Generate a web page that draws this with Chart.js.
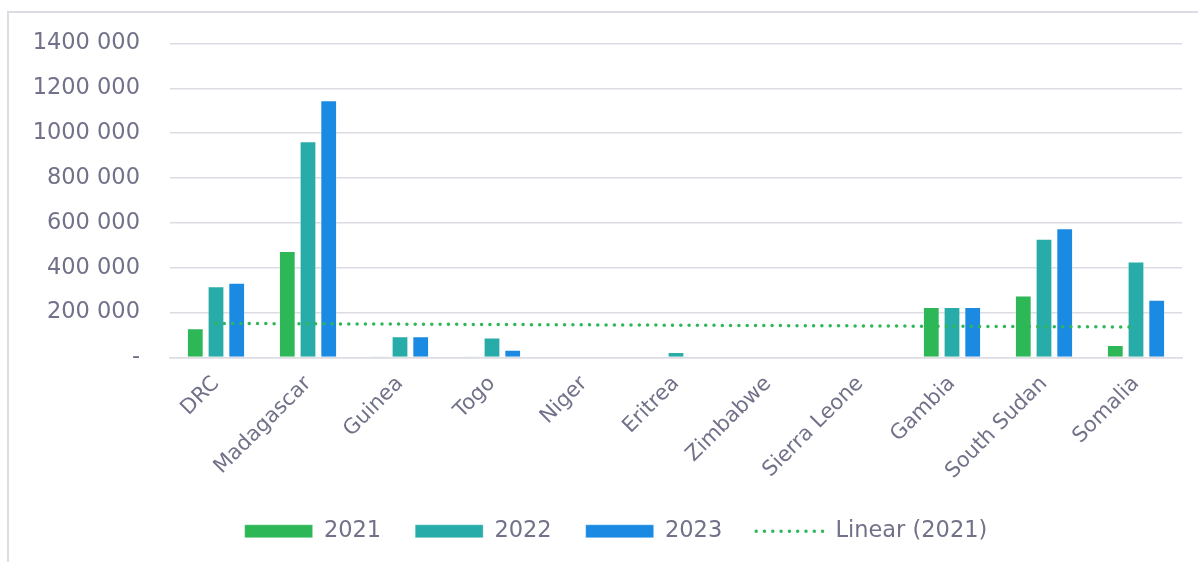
<!DOCTYPE html>
<html>
<head>
<meta charset="utf-8">
<script src="https://cdn.jsdelivr.net/npm/chart.js@4"></script>
<style>
  html, body { margin: 0; padding: 0; background: #fff; }
  #wrap { position: relative; width: 1198px; height: 562px; overflow: hidden; }
  #frame {
    position: absolute; left: 7px; top: 11px; width: 1300px; height: 700px;
    border-left: 2px solid #dcdce3; border-top: 2px solid #dcdce3;
  }
  canvas { position: absolute; left: 0; top: 0; }
</style>
</head>
<body>
<div id="wrap">
  <div id="frame"></div>
  <canvas id="chart" width="1198" height="562"></canvas>
</div>
<script>
// ── Data ───────────────────────────────────────────────────────────
const countries = ["DRC", "Madagascar", "Guinea", "Togo", "Niger", "Eritrea",
                   "Zimbabwe", "Sierra Leone", "Gambia", "South Sudan", "Somalia"]
const values2021 = [130000, 475000, 2000, 2000, 0, 3000, 0, 0, 225000, 276000, 56000]
const values2022 = [318000, 964000, 95000, 89000, 0, 24000, 0, 0, 225000, 530000, 428000]
const values2023 = [333000, 1147000, 95000, 34000, 0, 4000, 0, 0, 225000, 576000, 258000]
// trend line end points (first and last category)
const trend2021 = [152000, null, null, null, null, null, null, null, null, null, 136000]
const yTickValues = [0, 200000, 400000, 600000, 800000, 1000000, 1200000, 1400000]
const yTickLabels = ["-", "200 000", "400 000", "600 000", "800 000", "1000 000", "1200 000", "1400 000"]

const textColor = "#717189"
const gridColor = "#dcdce3"
const family = "'DejaVu Sans', Verdana, sans-serif"
const axisFont = { family, size: 21 }
const bigFont  = { family, size: 22.5 }

const green = "#2db757"
const teal  = "#27aca9"
const blue  = "#1b8ae3"

const dots = [0, 8.3]

const barStyle = {
  borderWidth: 1,
  borderColor: "rgba(255,255,255,0.35)",
  barPercentage: 0.81,
  categoryPercentage: 0.675,
  pointStyle: "rect",
  order: 1,
}

// nudge the legend a little to the right, like the original
const legendShift = {
  id: "legendShift",
  afterLayout(chart) {
    chart.legend.left += 8.5
    chart.legend.right += 8.5
  }
}

new Chart(document.getElementById("chart"), {
  type: "bar",
  plugins: [legendShift],
  data: {
    labels: countries,
    datasets: [
      { label: "2021", data: values2021, backgroundColor: green, ...barStyle },
      { label: "2022", data: values2022, backgroundColor: teal,  ...barStyle },
      { label: "2023", data: values2023, backgroundColor: blue,  ...barStyle },
      {
        type: "line",
        label: "Linear (2021)",
        data: trend2021,
        borderColor: green,
        backgroundColor: green,
        borderWidth: 3.5,
        borderDash: dots,
        borderCapStyle: "round",
        pointRadius: 0,
        pointStyle: "line",
        spanGaps: true,
        fill: false,
        order: 0,
      },
    ]
  },
  options: {
    responsive: false,
    animation: false,
    layout: { padding: { left: 33, right: 16, top: 34, bottom: 9.5 } },
    plugins: {
      tooltip: { enabled: false },
      legend: {
        position: "bottom",
        maxHeight: 90,
        labels: {
          usePointStyle: true,
          pointStyleWidth: 68,
          boxHeight: 13,
          padding: 34,
          color: textColor,
          font: bigFont,
          sort: (a, b) => a.datasetIndex - b.datasetIndex,
          generateLabels: chart => {
            const items = Chart.defaults.plugins.legend.labels.generateLabels(chart)
            items.forEach(it => {
              if (it.pointStyle === "line") {
                it.lineDash = dots
                it.lineCap = "round"
                it.lineWidth = 3.5
                it.strokeStyle = green
              }
            })
            return items
          }
        }
      }
    },
    scales: {
      x: {
        grid: { display: false },
        border: { color: gridColor, width: 1.5 },
        ticks: {
          color: textColor,
          font: axisFont,
          minRotation: 45,
          maxRotation: 45,
          padding: 6,
        },
        afterFit: s => { s.height = 128.5; s.paddingLeft = 0; s.paddingRight = 0 }
      },
      y: {
        min: 0,
        max: 1400000,
        grid: { color: gridColor, lineWidth: 1.5, drawTicks: false },
        border: { display: false },
        afterBuildTicks: s => { s.ticks = yTickValues.map(v => ({ value: v })) },
        ticks: {
          color: textColor,
          font: bigFont,
          padding: 30,
          callback: v => yTickLabels[yTickValues.indexOf(v)],
        },
        afterFit: s => { s.width = 137 }
      }
    }
  }
})
</script>
</body>
</html>
